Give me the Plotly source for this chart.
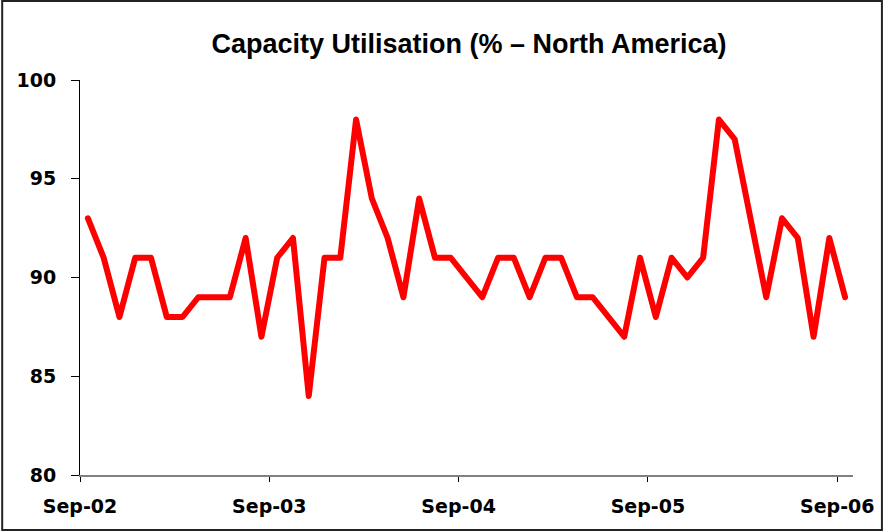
import plotly.graph_objects as go

# Monthly capacity utilisation, Sep-02 .. Sep-06 (49 months)
months = ["Sep-02", "Oct-02", "Nov-02", "Dec-02", "Jan-03", "Feb-03", "Mar-03", "Apr-03",
          "May-03", "Jun-03", "Jul-03", "Aug-03",
          "Sep-03", "Oct-03", "Nov-03", "Dec-03", "Jan-04", "Feb-04", "Mar-04", "Apr-04",
          "May-04", "Jun-04", "Jul-04", "Aug-04",
          "Sep-04", "Oct-04", "Nov-04", "Dec-04", "Jan-05", "Feb-05", "Mar-05", "Apr-05",
          "May-05", "Jun-05", "Jul-05", "Aug-05",
          "Sep-05", "Oct-05", "Nov-05", "Dec-05", "Jan-06", "Feb-06", "Mar-06", "Apr-06",
          "May-06", "Jun-06", "Jul-06", "Aug-06",
          "Sep-06"]
utilisation = [93, 91, 88, 91, 91, 88, 88, 89, 89, 89, 92, 87,
               91, 92, 84, 91, 91, 98, 94, 92, 89, 94, 91, 91,
               90, 89, 91, 91, 89, 91, 91, 89, 89, 88, 87, 91,
               88, 91, 90, 91, 98, 97, 93, 89, 93, 92, 87, 92,
               89]
tick_labels = ["Sep-02", "Sep-03", "Sep-04", "Sep-05", "Sep-06"]
y_ticks = [80, 85, 90, 95, 100]

x_idx = list(range(len(months)))
# category boundaries where the yearly labels sit
tick_pos = [months.index(lbl) - 0.5 for lbl in tick_labels]

W, H = 886, 531
ml, mr, mt, mb = 80, 31, 80, 56
pw, ph = W - ml - mr, H - mt - mb

fig = go.Figure()
fig.add_trace(go.Scatter(
    x=x_idx, y=utilisation, mode="lines",
    line=dict(color="#FF0000", width=6),
    hoverinfo="skip", showlegend=False,
))

tick_font = dict(family="DejaVu Sans", size=19, color="#000000", weight="bold")

fig.update_layout(
    width=W, height=H,
    margin=dict(l=ml, r=mr, t=mt, b=mb),
    paper_bgcolor="white", plot_bgcolor="white",
    title=dict(text="<b>Capacity Utilisation (% – North America)</b>",
               font=dict(family="Liberation Sans, Arial", size=27, color="#000000"),
               x=469 / W, xanchor="center", xref="container",
               y=1 - 44 / H, yanchor="middle", yref="container"),
    xaxis=dict(range=[-0.5, len(months) - 0.5], tickmode="array",
               tickvals=tick_pos, ticktext=tick_labels,
               ticks="outside", ticklen=5, tickcolor="#000000", tickwidth=1,
               showline=True, linecolor="#808080", linewidth=2,
               showgrid=False, zeroline=False, tickfont=tick_font,
               ticklabelstandoff=8),
    yaxis=dict(range=[80, 100], tickmode="array", tickvals=y_ticks,
               ticks="outside", ticklen=8, tickcolor="#000000", tickwidth=1,
               showline=True, linecolor="#000000", linewidth=1,
               showgrid=False, zeroline=False, tickfont=tick_font,
               ticklabelstandoff=11),
    shapes=[dict(type="rect", xref="paper", yref="paper",
                 x0=(2 - ml) / pw, x1=(884 - ml) / pw,
                 y0=(H - mb - 530) / ph, y1=(H - mb - 1) / ph,
                 line=dict(color="#222222", width=2), fillcolor="rgba(0,0,0,0)",
                 layer="below")],
)

fig.write_html(
    "out.html",
    config={"displayModeBar": False, "staticPlot": True},
    post_script=(
        "document.body.style.margin='0';document.body.style.overflow='hidden';"
        "document.querySelectorAll('.js-line').forEach(function(p){"
        "p.style.strokeLinejoin='round';p.style.strokeLinecap='round';});"
    ),
)
